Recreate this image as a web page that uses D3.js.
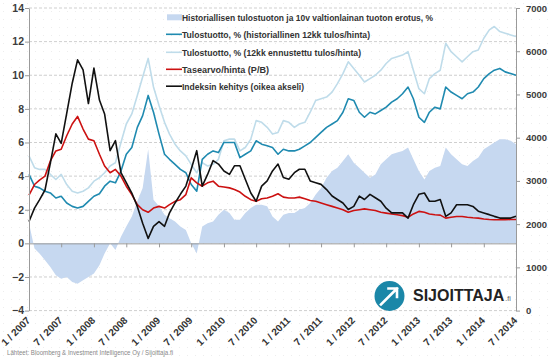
<!DOCTYPE html>
<html><head><meta charset="utf-8">
<script src="https://cdn.jsdelivr.net/npm/d3@7"></script>
<style>
body{margin:0;background:#fff}
svg{display:block}
text{font-family:"Liberation Sans",Arial,sans-serif}
</style>
</head><body>
<svg id="c" width="550" height="360"></svg>
<script>
// ---------------- DATA (monthly, Jan 2007 .. Jul 2014) ----------------
const firstMonth = "2007-01-01";

// Historiallisen tulostuoton ja 10v valtionlainan tuoton erotus, % (area)
const spread = [1.2,-0.3,-0.6,-1.0,-1.4,-1.9,-2.1,-2.0,-2.3,-2.4,
  -2.2,-2.0,-1.8,-1.3,-0.6,0.0,-0.4,0.4,1.0,1.6,
  2.5,3.3,5.6,2.6,2.2,1.7,1.5,1.3,1.0,0.8,
  0.0,-0.6,1.0,1.2,1.3,1.7,2.0,1.8,1.4,1.4,
  1.8,2.1,2.3,2.3,2.2,1.6,1.3,1.7,1.8,1.8,
  2.0,2.1,2.4,2.9,3.3,3.9,4.3,4.5,4.9,5.3,
  4.8,4.5,4.2,3.9,4.1,4.7,5.0,5.3,5.4,5.5,
  5.7,5.0,4.3,3.8,4.3,4.5,4.6,5.7,5.3,5.0,
  4.7,4.6,4.9,5.1,5.6,5.8,6.0,6.2,6.2,6.1,
  5.9];

// Tulostuotto, % (historiallinen 12kk tulos/hinta)
const trailingYield = [4.1,3.4,3.3,3.1,3.0,2.7,2.8,2.4,2.2,2.1,
  2.2,2.5,2.8,2.95,3.4,3.7,3.6,4.3,5.3,5.7,
  6.9,7.6,8.8,7.8,6.5,5.3,5.0,4.7,4.4,4.2,
  3.5,3.1,5.0,5.3,5.5,5.4,6.0,6.0,6.0,5.1,
  5.3,5.5,6.1,5.9,5.8,5.7,5.3,5.6,5.5,5.5,
  5.6,5.8,6.0,6.3,6.6,6.9,7.1,7.3,7.8,8.6,
  8.5,7.8,7.5,7.8,7.7,7.9,8.1,8.4,8.6,8.9,
  9.3,8.6,7.5,7.2,7.8,8.1,8.0,9.3,9.0,8.8,
  8.6,8.9,9.0,9.3,9.8,10.1,10.3,10.4,10.2,10.1,
  10.0];

// Tulostuotto, % (12kk ennustettu tulos/hinta)
const forwardYield = [5.2,4.5,4.4,4.4,4.1,3.8,4.1,3.5,3.1,3.0,
  3.1,3.3,3.7,3.9,4.2,4.6,4.8,6.0,7.1,7.7,
  8.8,9.9,11.0,9.3,8.2,7.2,6.5,5.9,5.5,5.2,
  4.7,4.2,4.8,4.6,4.7,5.0,6.1,6.2,6.2,5.5,
  5.7,6.2,7.3,7.2,6.9,6.5,6.6,7.3,7.2,6.9,
  7.1,7.2,7.8,8.5,8.6,8.7,9.0,9.5,10.1,10.8,
  10.4,10.0,9.6,9.8,10.0,10.3,10.7,11.0,11.1,11.2,
  11.4,10.3,9.2,8.9,9.8,10.1,10.3,11.9,11.4,11.1,
  10.8,11.1,11.4,11.5,12.2,12.7,12.9,12.6,12.5,12.4,
  12.3];

// Tasearvo/hinta (P/B)
const priceToBook = [2.87,3.5,3.76,4.0,4.9,5.5,5.6,6.4,7.1,7.55,
  6.8,6.2,6.1,5.3,4.6,4.2,4.4,4.0,3.4,2.9,
  2.3,2.0,1.85,2.1,2.2,2.1,2.3,2.5,2.6,2.9,
  3.9,3.6,3.4,3.6,3.7,3.4,3.35,3.3,3.2,3.05,
  2.8,2.6,2.5,2.65,2.7,2.8,2.95,2.75,2.7,2.7,
  2.75,2.65,2.55,2.5,2.4,2.3,2.2,2.1,2.0,1.85,
  1.95,2.0,2.05,2.0,1.95,1.85,1.8,1.75,1.7,1.65,
  1.55,1.75,1.9,1.85,1.75,1.7,1.68,1.5,1.55,1.6,
  1.6,1.55,1.52,1.5,1.45,1.42,1.4,1.4,1.4,1.42,
  1.42];

// Indeksin kehitys (oikea akseli)
const indexLevel = [2060,2370,2560,2790,3410,4090,3870,4560,5260,5800,
  5570,4790,5610,4870,4550,3700,3930,3190,2960,2720,
  2410,2020,1670,1950,2060,1950,2260,2490,2690,2880,
  3270,3700,2880,3150,3470,3390,3230,3150,3350,3350,
  3040,2720,2530,2880,3000,3230,3390,3080,3040,3190,
  3270,3270,3000,2960,2920,2800,2650,2570,2490,2340,
  2410,2650,2570,2690,2610,2530,2370,2260,2260,2260,
  2140,2450,2690,2720,2530,2530,2570,2180,2260,2450,
  2450,2450,2410,2300,2260,2220,2180,2140,2140,2140,
  2180];

const leftTicks = [-4,-2,0,2,4,6,8,10,12,14];
const rightTicks = [0,1000,2000,3000,4000,5000,6000,7000];
const xTickLabels = ["1 / 2007","7 / 2007","1 / 2008","7 / 2008","1 / 2009","7 / 2009",
  "1 / 2010","7 / 2010","1 / 2011","7 / 2011","1 / 2012","7 / 2012",
  "1 / 2013","7 / 2013","1 / 2014","7 / 2014"];
const legendLabels = [
  "Historiallisen tulostuoton ja 10v valtionlainan tuoton erotus, %",
  "Tulostuotto, % (historiallinen 12kk tulos/hinta)",
  "Tulostuotto, % (12kk ennustettu tulos/hinta)",
  "Tasearvo/hinta (P/B)",
  "Indeksin kehitys (oikea akseli)"];
const sourceText = "Lähteet: Bloomberg & Investment Intelligence Oy / Sijoittaja.fi";

// ---------------- STYLE ----------------
const C = {area:"#c6d8f0", teal:"#1f8ab0", light:"#bfdcea", red:"#cc1111", black:"#111111",
           grid:"#cfcfcf", axis:"#9a9a9a", label:"#3c3c3c"};

const svg = d3.select("#c");
const W = 550, H = 360;
const start = d3.isoParse(firstMonth);
const dates = d3.range(indexLevel.length).map(i => d3.timeMonth.offset(start, i));
const tickDates = xTickLabels.map((_, i) => d3.timeMonth.offset(start, i * 6));

const x = d3.scaleTime().domain([start, d3.timeMonth.offset(start, 90)]).range([29, 516]);
const yL = d3.scaleLinear().domain([-4, 14]).range([310.6, 8]);
const yR = d3.scaleLinear().domain([0, 7000]).range([310.6, 8]);

// dotted background texture
const defs = svg.append("defs");
const pat = defs.append("pattern").attr("id","dots").attr("width",8).attr("height",8)
  .attr("patternUnits","userSpaceOnUse");
pat.append("rect").attr("x",3).attr("y",3).attr("width",1).attr("height",1).attr("fill","#ededed");
svg.append("rect").attr("width",W).attr("height",H).attr("fill","url(#dots)");

// gridlines
svg.append("g").selectAll("line").data(leftTicks.filter(d => d !== 0)).join("line")
  .attr("x1", 29).attr("x2", 516)
  .attr("y1", d => yL(d)).attr("y2", d => yL(d))
  .attr("stroke", C.grid).attr("stroke-width", 1).attr("stroke-dasharray", "3,2");

// area
const area = d3.area().x((d,i) => x(dates[i])).y0(yL(0)).y1(d => yL(d));
svg.append("path").datum(spread).attr("d", area).attr("fill", C.area);

// lines
function drawLine(vals, scale, color, w){
  const line = d3.line().x((d,i) => x(dates[i])).y(d => scale(d));
  svg.append("path").datum(vals).attr("d", line).attr("fill","none")
    .attr("stroke", color).attr("stroke-width", w).attr("stroke-linejoin","round");
}
drawLine(forwardYield, yL, C.light, 1.6);
drawLine(trailingYield, yL, C.teal, 1.6);
drawLine(priceToBook, yL, C.red, 1.6);
drawLine(indexLevel, yR, C.black, 1.6);

// axes
function styleAxis(g, fs){
  g.selectAll(".domain").attr("stroke", C.axis);
  g.selectAll(".tick line").attr("stroke", C.axis);
  g.selectAll("text").attr("fill", C.label).attr("font-weight","bold")
    .attr("font-size", fs).attr("font-family", '"Liberation Sans",Arial,sans-serif');
}
const gL = svg.append("g").attr("transform","translate(29,0)")
  .call(d3.axisLeft(yL).tickValues(leftTicks).tickSize(4).tickSizeOuter(0).tickPadding(1));
styleAxis(gL, 10.5);
const gR = svg.append("g").attr("transform","translate(516,0)")
  .call(d3.axisRight(yR).tickValues(rightTicks).tickSize(4).tickSizeOuter(0).tickPadding(6)
    .tickFormat(d3.format("d")));
styleAxis(gR, 9.5);
const gB = svg.append("g").attr("transform",`translate(0,${yL(0)})`)
  .call(d3.axisBottom(x).tickValues(tickDates).tickSize(4).tickSizeOuter(0).tickFormat(""));
styleAxis(gB, 10);

// rotated x labels
svg.append("g").selectAll("text").data(tickDates).join("text")
  .attr("transform", d => `translate(${x(d)+2},321) rotate(-45)`)
  .attr("text-anchor","end").attr("font-size",10).attr("font-weight","bold").attr("fill","#333")
  .text((d,i) => xTickLabels[i]);

// legend
const legY = [17.3, 34.3, 52.3, 69.3, 86.2];
const legW = [251, 188, 179, 87, 122];
const legColors = [C.area, C.teal, C.light, C.red, C.black];
const lg = svg.append("g");
legendLabels.forEach((t, i) => {
  if (i === 0) {
    lg.append("rect").attr("x",167).attr("y",legY[i]-3).attr("width",15).attr("height",6).attr("fill",C.area);
  } else {
    lg.append("line").attr("x1",166).attr("x2",182).attr("y1",legY[i]).attr("y2",legY[i])
      .attr("stroke", legColors[i]).attr("stroke-width",1.6);
  }
  lg.append("text").attr("x",182).attr("y",legY[i]+3.5).attr("font-size",9.6).attr("font-weight","bold")
    .attr("fill","#333").attr("textLength",legW[i]).attr("lengthAdjust","spacingAndGlyphs").text(t);
});

// source
svg.append("text").attr("x",7).attr("y",355).attr("font-size",7).attr("fill","#888")
  .attr("textLength",166).attr("lengthAdjust","spacingAndGlyphs").text(sourceText);

// logo
const logo = svg.append("g");
logo.append("circle").attr("cx",389.5).attr("cy",296).attr("r",15).attr("fill","#1b87a8");
logo.append("path").attr("d","M381,304.5 L397,288.5 M388.5,288.5 L397,288.5 L397,297")
  .attr("fill","none").attr("stroke","#fff").attr("stroke-width",2.6).attr("stroke-linecap","square");
const brand = logo.append("text").attr("x",413).attr("y",301).attr("font-weight","bold").attr("fill","#222");
brand.append("tspan").attr("font-size",16).text("SIJOITTAJA");
brand.append("tspan").attr("font-size",7).attr("font-weight","normal").attr("fill","#555").attr("dx",1).text(".fi");
</script>
</body></html>
